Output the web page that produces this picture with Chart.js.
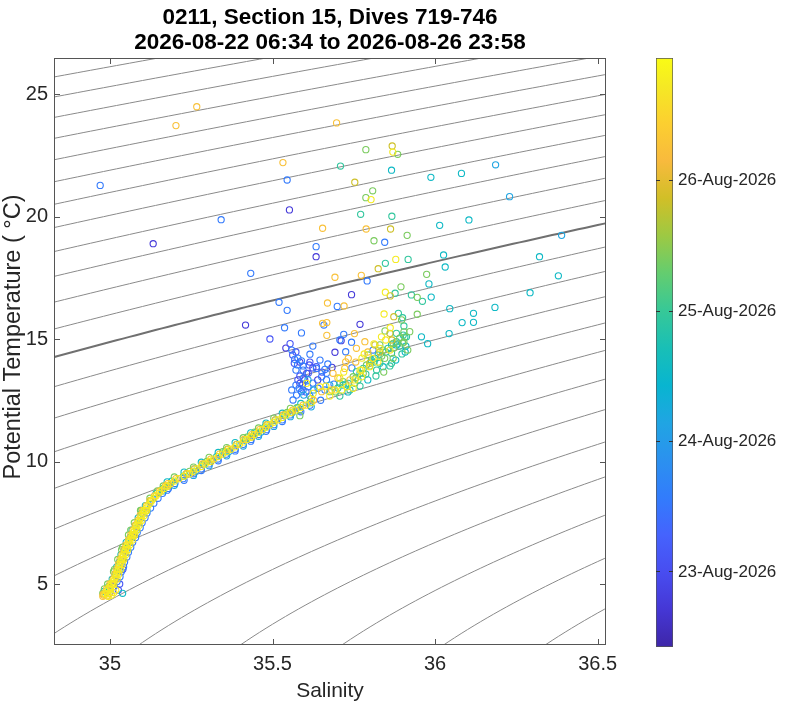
<!DOCTYPE html>
<html>
<head>
<meta charset="utf-8">
<script src="https://cdn.jsdelivr.net/npm/chart.js@4.4.1/dist/chart.umd.min.js"></script>
<style>
  html, body { margin: 0; padding: 0; background: #fff; }
  #wrap { position: relative; width: 800px; height: 705px; }
  #main { position: absolute; left: 0; top: 0; }
  #cbar { position: absolute; left: 656px; top: 0; }
</style>
</head>
<body>
<div id="wrap">
  <canvas id="main" width="800" height="705"></canvas>
  <canvas id="cbar" width="144" height="705"></canvas>
</div>
<script>
// titles and axis ranges
const titleLines = ['0211, Section 15, Dives 719-746', '2026-08-22 06:34 to 2026-08-26 23:58'];
const xLabel = 'Salinity';
const yLabel = 'Potential Temperature ( °C)';
const salRange = [34.828, 36.5255];
const thetaRange = [2.51, 26.47];
const salTicks = [35, 35.5, 36, 36.5];
const thetaTicks = [5, 10, 15, 20, 25];

// colorbar: time in days of August 2026
const dayRange = [22.425, 26.94];
const dayTicks = [23, 24, 25, 26];

// isopycnals (sigma-theta, kg/m3)
const sigmaLevels = [22.75, 23, 23.25, 23.5, 23.75, 24, 24.25, 24.5, 24.75, 25, 25.25, 25.5, 25.75,
  26, 26.25, 26.5, 26.75, 27, 27.25, 27.5, 27.75, 28, 28.25, 28.5, 28.75, 29];
const boldLevel = 26;

// samples [salinity, potential temperature], grouped by dive time (day of August)
const dayP = 22.75, dayV = 23.1, dayB = 23.55, dayA = 24.15, dayC = 24.55;
const dayT = 24.95, dayG = 25.4, dayO = 25.85, dayR = 26.25, dayY = 26.75;

const purplePts = [[35.552,20.27],[35.133,18.89],[35.634,18.36],[35.743,16.81],[35.417,15.57],[35.769,15.60],
  [35.711,14.93],[35.692,14.46],[35.541,14.63],[35.584,13.19],[35.605,13.60],[35.624,13.82],[35.599,13.33],
  [35.683,13.84],[35.584,14.06],[35.639,13.33]];

const violetPts = [[35.554,14.81],[35.562,14.35],[35.567,14.01],[35.578,13.33],[35.635,13.87],[35.613,13.94],
  [35.610,13.60],[35.592,13.12],[35.492,15.00],[35.572,14.47],[35.584,13.49],[35.603,12.84],[35.652,13.65],
  [35.615,14.06],[35.026,4.75],[35.030,5.00],[35.040,5.60]];

const bluePts = [[35.545,21.49],[34.970,21.27],[35.342,19.87],[35.634,18.77],[35.845,18.95],[35.433,17.68],
  [35.791,17.37],[35.520,16.50],[35.699,16.33],[35.545,16.17],[35.537,15.46],[35.658,15.57],[35.589,15.25],
  [35.719,15.19],[35.743,14.87],[35.615,14.38],[35.624,14.71],[35.725,14.48],[35.568,14.17],[35.577,13.94],
  [35.589,14.11],[35.594,13.90],[35.594,13.73],[35.594,12.92],[35.609,13.05],[35.624,13.20],[35.563,12.51],
  [35.574,12.71],[35.582,12.99],[35.589,12.85],[35.635,13.80],[35.661,13.76],[35.666,13.60],[35.651,13.46],
  [35.666,13.33],[35.640,12.99],[35.661,12.92],[35.809,14.55],[35.707,14.96],[35.559,14.55],[35.578,14.22],
  [35.572,13.73],[35.596,13.41],[35.572,13.12],[35.559,12.92],[35.615,12.67],[35.670,13.98],[35.646,14.14],
  [35.744,13.82],[35.689,13.16]];
const blueCurve = [[35.002,4.7],[35.013,4.9],[35.022,5.1],[35.031,5.3],[35.035,5.5],[35.042,5.7],[35.045,5.9],
  [35.052,6.1],[35.057,6.3],[35.064,6.5],[35.070,6.7],[35.079,6.9],[35.084,7.1],[35.093,7.3],[35.099,7.5],
  [35.108,7.7],[35.114,7.9],[35.125,8.1],[35.135,8.3],[35.148,8.5],[35.162,8.7],[35.180,8.9],[35.200,9.1],
  [35.225,9.3],[35.257,9.5],[35.281,9.7],[35.305,9.9],[35.332,10.1],[35.357,10.3],[35.385,10.5],[35.410,10.7],
  [35.434,10.9],[35.457,11.1],[35.482,11.3],[35.504,11.5],[35.530,11.7],[35.554,11.9],[35.584,12.1],
  [35.615,12.3],[35.648,12.5],
  [35.176,8.83],[35.228,9.23],[35.281,9.63],[35.333,10.03],[35.385,10.43],[35.433,10.83],[35.480,11.23],
  [35.530,11.63],[35.587,12.03]];

const azurePts = [[36.186,22.11],[36.229,20.81],[36.389,19.23],[35.596,12.71],[35.676,13.12],[35.609,13.33],
  [35.627,12.92],
  [35.001,4.8],[35.032,5.6],[35.054,6.4],[35.082,7.2],[35.114,8.0],[35.164,8.8],[35.263,9.6],[35.365,10.4],
  [35.465,11.2],[35.561,12.0],
  [35.198,9.03],[35.257,9.43],[35.305,9.83],[35.359,10.23],[35.410,10.63],[35.457,11.03],[35.504,11.43],
  [35.555,11.83],[35.619,12.23]];

const cyanPts = [[35.987,21.60],[36.081,21.76],[36.014,19.64],[36.104,19.86],[36.026,18.43],[35.958,15.09],
  [36.031,17.94],[36.321,18.36],[36.379,17.58],[35.981,17.25],[35.988,16.71],[36.292,16.89],[36.045,16.24],
  [36.118,16.05],[36.184,16.29],[36.083,15.67],[36.118,15.68],[36.043,15.22],[35.977,14.81],[35.908,14.47],
  [35.866,21.89],[35.717,13.12],[35.769,13.60],[35.815,14.21],[35.866,14.76],[35.840,13.87],[35.881,14.76],
  [35.885,14.80],[35.910,14.71],[35.732,12.84],[35.793,13.33],[35.879,14.14],
  [34.982,4.7],[35.039,4.62],[35.007,5.2],[35.021,5.7],[35.034,6.2],[35.050,6.7],[35.068,7.2],[35.087,7.7],
  [35.109,8.2],[35.142,8.7],[35.190,9.2],[35.260,9.7],[35.328,10.2],[35.390,10.7],[35.451,11.2],[35.509,11.7],
  [35.579,12.2],
  [35.176,9.17],[35.228,9.57],[35.281,9.97],[35.333,10.37],[35.385,10.77],[35.433,11.17],[35.480,11.57],
  [35.530,11.97],[35.587,12.37]];

const tealPts = [[35.709,22.06],[35.867,20.01],[35.917,18.25],[35.847,18.09],[35.877,16.87],[35.927,16.80],
  [35.961,16.54],[35.900,15.87],[35.904,15.53],[35.907,15.08],[35.771,20.09],[35.887,16.05],
  [35.707,13.19],[35.733,13.19],[35.758,13.67],[35.779,13.80],[35.804,14.07],[35.825,14.35],[35.855,14.62],
  [35.881,14.89],[35.902,15.16],[35.804,14.14],[35.763,13.33],[35.830,14.01],[35.820,13.73],[35.866,14.42],
  [35.912,15.09],[35.738,12.92],[35.701,13.00],[35.881,15.23],[35.866,14.01],[35.725,13.16],[35.787,13.57],
  [35.812,14.06],[35.848,14.47],[35.891,14.71],[35.707,12.67],[35.769,13.08],[35.818,13.49],[35.861,13.90],
  [35.898,14.39],
  [34.996,4.9],[35.016,5.4],[35.029,5.9],[35.044,6.4],[35.062,6.9],[35.079,7.4],[35.098,7.9],[35.124,8.4],
  [35.163,8.9],[35.226,9.4],[35.289,9.9],[35.355,10.4],[35.417,10.9],[35.476,11.4],[35.538,11.9],[35.615,12.4]];

const greenPts = [[35.787,22.73],[35.885,22.54],[35.808,21.05],[35.787,20.77],[35.812,19.01],[35.914,19.23],
  [35.974,17.64],[35.895,17.13],[35.945,16.70],[35.945,16.01],[35.846,15.33],[35.897,15.78],[35.904,15.29],
  [35.900,14.84],[35.748,13.46],[35.789,13.94],[35.840,14.55],[35.871,14.82],[35.891,15.03],[35.830,14.76],
  [35.794,14.35],[35.779,13.60],[35.753,13.19],[35.845,14.21],[35.922,15.30],[35.717,13.26],[35.676,12.85],
  [35.871,14.21],[35.584,11.87],[35.695,12.84],[35.756,13.41],[35.799,13.90],[35.836,14.31],[35.873,14.63],
  [35.904,14.88],[35.842,13.65],[35.916,14.55],
  [34.978,4.62],[34.983,4.8],[34.993,5.0],[35.011,5.5],[35.014,5.6],[35.024,6.0],[35.036,6.4],[35.039,6.5],
  [35.057,7.0],[35.064,7.2],[35.075,7.5],[35.094,8.0],[35.096,8.0],[35.123,8.5],[35.146,8.8],[35.164,9.0],
  [35.235,9.5],[35.245,9.6],[35.298,10.0],[35.347,10.4],[35.362,10.5],[35.423,11.0],[35.445,11.2],
  [35.482,11.5],[35.545,12.0],[35.575,12.2],
  [35.198,9.37],[35.257,9.77],[35.305,10.17],[35.359,10.57],[35.410,10.97],[35.457,11.37],[35.504,11.77],
  [35.555,12.17],[35.619,12.57]];

const olivePts = [[35.868,22.88],[35.753,21.40],[35.863,19.49],[35.825,17.87],[35.862,16.76],[35.873,15.91],
  [35.799,14.01],[35.815,14.76],[35.861,15.23],[35.867,14.96],[35.830,14.47],
  [35.008,5.0],[35.039,6.0],[35.072,7.0],[35.111,8.0],[35.179,9.0],[35.311,10.0],[35.436,11.0],[35.558,12.0]];

const orangePts = [[35.267,24.48],[35.203,23.71],[35.532,22.20],[35.654,19.52],[35.697,23.82],[35.788,19.49],
  [35.692,17.52],[35.773,17.60],[35.669,16.47],[35.720,16.35],[35.654,15.64],[35.667,15.67],[35.667,15.15],
  [35.752,15.22],[35.784,14.89],[35.758,14.62],[35.682,12.92],[35.651,12.85],[35.725,14.07],[35.722,13.80],
  [35.733,14.21],[35.686,13.60],[35.738,13.33],[35.793,14.47],[35.756,14.06],[35.701,13.41]];
const orangeCurve = [[34.978,4.5],[34.985,4.58],[34.992,4.52],[35.000,4.62],[34.980,4.55],[34.980,4.6],
  [34.990,4.8],[35.000,5.0],[35.010,5.2],[35.015,5.4],[35.021,5.6],[35.026,5.8],[35.031,6.0],[35.037,6.2],
  [35.043,6.4],[35.049,6.6],[35.057,6.8],[35.064,7.0],[35.071,7.2],[35.078,7.4],[35.086,7.6],[35.093,7.8],
  [35.101,8.0],[35.112,8.2],[35.123,8.4],[35.137,8.6],[35.153,8.8],[35.171,9.0],[35.178,9.1],[35.203,9.3],
  [35.236,9.5],[35.259,9.7],[35.284,9.9],[35.310,10.1],[35.337,10.3],[35.363,10.5],[35.389,10.7],
  [35.412,10.9],[35.436,11.1],[35.460,11.3],[35.483,11.5],[35.508,11.7],[35.533,11.9],[35.562,12.1],
  [35.594,12.3],[35.626,12.5]];

const yellowPts = [[35.870,22.63],[35.803,20.69],[35.879,18.25],[35.847,16.91],[35.843,16.02],[35.835,15.09],
  [35.862,15.46],[35.753,13.33],[35.774,13.73],[35.809,14.21],[35.830,14.62],[35.812,14.80],[35.782,14.39],
  [35.799,13.87],[35.774,13.46],[35.748,12.99],[35.707,13.40],[35.728,13.05],[35.646,13.05],[35.625,12.78],
  [35.605,13.19],[35.692,12.92],[35.676,12.67],[35.713,12.92],[35.769,13.73],[35.824,14.06],[35.861,14.55],
  [35.848,14.96],[35.775,14.22],[35.719,13.65],[35.664,13.08]];
const yellowCurve = [[34.985,4.6],[34.990,4.7],[34.995,4.8],[35.000,4.9],[35.005,5.0],[35.010,5.1],[35.015,5.2],
  [35.018,5.3],[35.020,5.4],[35.023,5.5],[35.026,5.6],[35.029,5.7],[35.031,5.8],[35.033,5.9],[35.036,6.0],
  [35.039,6.1],[35.042,6.2],[35.045,6.3],[35.048,6.4],[35.051,6.5],[35.054,6.6],[35.058,6.7],[35.062,6.8],
  [35.066,6.9],[35.069,7.0],[35.072,7.1],[35.076,7.2],[35.080,7.3],[35.083,7.4],[35.087,7.5],[35.091,7.6],
  [35.095,7.7],[35.098,7.8],[35.102,7.9],[35.106,8.0],[35.112,8.1],[35.117,8.2],[35.123,8.3],[35.128,8.4],
  [35.135,8.5],[35.142,8.6],[35.150,8.7],[35.158,8.8],[35.167,8.9],[35.176,9.0],[35.187,9.1],[35.198,9.2],
  [35.212,9.3],[35.228,9.4],[35.245,9.5],[35.257,9.6],[35.268,9.7],[35.281,9.8],[35.293,9.9],[35.305,10.0],
  [35.319,10.1],[35.333,10.2],[35.346,10.3],[35.359,10.4],[35.372,10.5],[35.385,10.6],[35.398,10.7],
  [35.410,10.8],[35.421,10.9],[35.433,11.0],[35.445,11.1],[35.457,11.2],[35.469,11.3],[35.480,11.4],
  [35.492,11.5],[35.504,11.6],[35.517,11.7],[35.530,11.8],[35.542,11.9],[35.555,12.0],[35.571,12.1],
  [35.587,12.2],[35.603,12.3],[35.619,12.4],
  [34.995,4.5],[35.005,4.55],[35.012,4.65],[35.018,4.75],[34.992,4.6],[35.002,4.8],[35.012,5.0],[35.022,5.2],
  [35.027,5.4],[35.033,5.6],[35.038,5.8],[35.043,6.0],[35.049,6.2],[35.055,6.4],[35.061,6.6],[35.069,6.8],
  [35.076,7.0],[35.083,7.2],[35.090,7.4],[35.098,7.6],[35.105,7.8],[35.113,8.0]];

const groups = [
  { day: dayP, pts: purplePts }, { day: dayV, pts: violetPts }, { day: dayB, pts: bluePts.concat(blueCurve) },
  { day: dayA, pts: azurePts }, { day: dayC, pts: cyanPts }, { day: dayT, pts: tealPts },
  { day: dayG, pts: greenPts }, { day: dayO, pts: olivePts }, { day: dayR, pts: orangePts.concat(orangeCurve) },
  { day: dayY, pts: yellowPts.concat(yellowCurve) }
];

const FONT = '"Liberation Sans", Arial, Helvetica, sans-serif';
const AXIS_COLOR = '#262626';

// parula colormap, every 4th entry of the 64-colour table
const parulaStops = [
  [0.2422,0.1504,0.6603],[0.2706,0.2147,0.8364],[0.2813,0.3006,0.9414],[0.2699,0.3892,0.9906],
  [0.1963,0.4847,0.9892],[0.1687,0.5703,0.9359],[0.1248,0.6459,0.8883],[0.0297,0.7082,0.8163],
  [0.0964,0.7500,0.7120],[0.2161,0.7843,0.5923],[0.3909,0.8029,0.4354],[0.6174,0.7876,0.2612],
  [0.8203,0.7498,0.1535],[0.9728,0.7298,0.2394],[0.9892,0.8136,0.1885],[0.9597,0.9135,0.1423],
  [0.9769,0.9839,0.0805]
];
const stopPos = parulaStops.map((c, i) => Math.min(i * 4, 63) / 63);

function rgb(c) {
  return 'rgb(' + Math.round(c[0] * 255) + ',' + Math.round(c[1] * 255) + ',' + Math.round(c[2] * 255) + ')';
}

function parula(day) {
  let f = (day - dayRange[0]) / (dayRange[1] - dayRange[0]);
  f = Math.max(0, Math.min(1, f));
  for (let i = 1; i < stopPos.length; i++) {
    if (f <= stopPos[i]) {
      const t = (f - stopPos[i - 1]) / (stopPos[i] - stopPos[i - 1]);
      const a = parulaStops[i - 1], b = parulaStops[i];
      return rgb([a[0] + (b[0] - a[0]) * t, a[1] + (b[1] - a[1]) * t, a[2] + (b[2] - a[2]) * t]);
    }
  }
  return rgb(parulaStops[parulaStops.length - 1]);
}

// UNESCO 1980 equation of state at p = 0, returns sigma
function sigmaTheta(S, T) {
  const rw = 999.842594 + 6.793952e-2 * T - 9.095290e-3 * T * T + 1.001685e-4 * T ** 3
    - 1.120083e-6 * T ** 4 + 6.536332e-9 * T ** 5;
  const A = 8.24493e-1 - 4.0899e-3 * T + 7.6438e-5 * T * T - 8.2467e-7 * T ** 3 + 5.3875e-9 * T ** 4;
  const B = -5.72466e-3 + 1.0227e-4 * T - 1.6546e-6 * T * T;
  return rw + A * S + B * Math.pow(S, 1.5) + 4.8314e-4 * S * S - 1000;
}

function isopycnal(level) {
  const pts = [];
  for (let i = 0; i <= 90; i++) {
    const S = 34.80 + i * 0.02;
    let lo = -2, hi = 40;
    for (let k = 0; k < 40; k++) {
      const mid = (lo + hi) / 2;
      if (sigmaTheta(S, mid) > level) lo = mid; else hi = mid;
    }
    pts.push({ x: S, y: (lo + hi) / 2 });
  }
  return pts;
}

const contourSets = sigmaLevels.map(lv => ({
  type: 'line',
  data: isopycnal(lv),
  borderColor: lv === boldLevel ? '#707070' : '#8a8a8a',
  borderWidth: lv === boldLevel ? 2 : 1,
  pointRadius: 0,
  pointHoverRadius: 0,
  fill: false,
  tension: 0,
  order: 100
}));

const pointSets = groups.map((g, i) => ({
  type: 'scatter',
  data: g.pts.map(p => ({ x: p[0], y: p[1] })),
  borderColor: parula(g.day),
  backgroundColor: 'rgba(0,0,0,0)',
  pointRadius: 3.1,
  pointHoverRadius: 3.1,
  borderWidth: 1.1,
  order: 50 - i
}));

// box, inward tick marks, two-line title and y label
const framePlugin = {
  id: 'frame',
  afterDatasetsDraw(chart) {
    const { ctx, chartArea: a, scales } = chart;
    ctx.save();
    ctx.strokeStyle = '#555';
    ctx.lineWidth = 1;
    ctx.strokeRect(a.left + 0.5, a.top + 0.5, a.right - a.left - 1, a.bottom - a.top - 1);
    ctx.beginPath();
    salTicks.forEach(v => {
      const px = Math.round(scales.x.getPixelForValue(v)) + 0.5;
      ctx.moveTo(px, a.bottom); ctx.lineTo(px, a.bottom - 6);
      ctx.moveTo(px, a.top); ctx.lineTo(px, a.top + 6);
    });
    thetaTicks.forEach(v => {
      const py = Math.round(scales.y.getPixelForValue(v)) + 0.5;
      ctx.moveTo(a.left, py); ctx.lineTo(a.left + 6, py);
      ctx.moveTo(a.right, py); ctx.lineTo(a.right - 6, py);
    });
    ctx.stroke();
    ctx.restore();
  },
  afterDraw(chart) {
    const { ctx, chartArea: a } = chart;
    const cx = (a.left + a.right) / 2;
    ctx.save();
    ctx.fillStyle = '#000';
    ctx.font = 'bold 22.5px ' + FONT;
    ctx.textAlign = 'center';
    ctx.textBaseline = 'middle';
    ctx.fillText(titleLines[0], cx, 18);
    ctx.fillText(titleLines[1], cx, 43);
    ctx.fillStyle = AXIS_COLOR;
    ctx.font = '23.5px ' + FONT;
    ctx.translate(14, 337);
    ctx.rotate(-Math.PI / 2);
    ctx.fillText(yLabel, 0, 0);
    ctx.restore();
  }
};

Chart.defaults.font.family = FONT;

new Chart(document.getElementById('main'), {
  type: 'scatter',
  data: { datasets: pointSets.concat(contourSets) },
  options: {
    responsive: false,
    animation: false,
    layout: { padding: { top: 58, right: 194, left: 0, bottom: 0 } },
    plugins: { legend: { display: false }, tooltip: { enabled: false } },
    scales: {
      x: {
        type: 'linear',
        min: salRange[0],
        max: salRange[1],
        afterBuildTicks: s => { s.ticks = salTicks.map(v => ({ value: v })); },
        afterFit: s => { s.height = 60; },
        grid: { display: false, drawTicks: false },
        border: { display: false },
        ticks: { color: AXIS_COLOR, font: { size: 20 }, padding: 7, maxRotation: 0, callback: v => String(v) },
        title: { display: true, text: xLabel, color: AXIS_COLOR, font: { size: 21 }, padding: { top: 0, bottom: 1 } }
      },
      y: {
        type: 'linear',
        min: thetaRange[0],
        max: thetaRange[1],
        afterBuildTicks: s => { s.ticks = thetaTicks.map(v => ({ value: v })); },
        afterFit: s => { s.width = 54; },
        grid: { display: false, drawTicks: false },
        border: { display: false },
        ticks: { color: AXIS_COLOR, font: { size: 20 }, padding: 6, callback: v => String(v) },
        title: { display: false }
      }
    }
  },
  plugins: [framePlugin]
});

// colorbar
function barGradient(chart) {
  const a = chart.chartArea;
  if (!a) return null;
  const g = chart.ctx.createLinearGradient(0, a.bottom, 0, a.top);
  parulaStops.forEach((c, i) => g.addColorStop(stopPos[i], rgb(c)));
  return g;
}

new Chart(document.getElementById('cbar'), {
  type: 'bar',
  data: {
    labels: ['time'],
    datasets: [{
      data: [dayRange],
      backgroundColor: ctx => barGradient(ctx.chart),
      borderColor: '#555',
      borderWidth: 1,
      borderSkipped: false,
      barPercentage: 1,
      categoryPercentage: 1
    }]
  },
  options: {
    responsive: false,
    animation: false,
    layout: { padding: { top: 58, bottom: 58, left: 0, right: 0 } },
    plugins: { legend: { display: false }, tooltip: { enabled: false } },
    scales: {
      x: { display: false },
      y: {
        position: 'right',
        min: dayRange[0],
        max: dayRange[1],
        afterBuildTicks: s => { s.ticks = dayTicks.map(v => ({ value: v })); },
        afterFit: s => { s.width = 127; },
        grid: { drawTicks: false, color: '#333', lineWidth: 1, z: 1 },
        border: { display: false, dash: [4, 9] },
        ticks: { color: AXIS_COLOR, font: { size: 17 }, padding: 5, callback: v => v + '-Aug-2026' }
      }
    }
  }
});
</script>
</body>
</html>
